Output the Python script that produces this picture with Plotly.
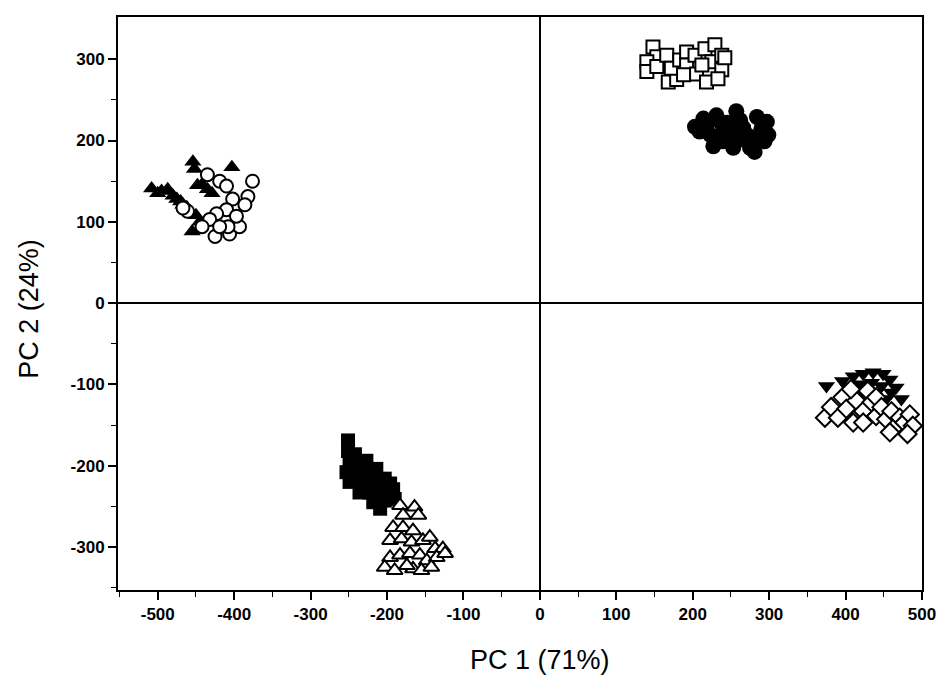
import plotly.graph_objects as go

# ---------------- data ----------------
tri_fill_x = [-454, -403, -508, -487, -442, -429, -475, -467, -458, -455,
              -500, -480, -470, -462, -450, -445, -448, -435, -452, -495]
tri_fill_y = [174, 167, 141, 140, 146, 135, 128, 121, 113, 88,
              135, 132, 125, 118, 108, 100, 145, 140, 165, 138]

circ_open_x = [-435, -419, -410, -376, -382, -386, -402, -410, -423, -432,
               -442, -425, -406, -393, -408, -419, -461, -467, -397]
circ_open_y = [158, 150, 144, 150, 131, 121, 128, 115, 110, 103,
               94, 82, 85, 94, 94, 94, 113, 117, 107]

sq_open_x = [148, 153, 140, 140, 153, 166, 168, 179, 172, 183, 192, 192,
             203, 205, 216, 218, 225, 229, 238, 238, 233, 242, 212, 188]
sq_open_y = [315, 303, 297, 285, 291, 305, 272, 275, 289, 299, 309, 293,
             305, 282, 313, 272, 297, 318, 305, 287, 276, 302, 293, 281]

circ_fill_x = [203, 214, 223, 227, 236, 240, 249, 253, 262, 271, 275, 284,
               290, 294, 297, 281, 231, 257, 209, 299, 218, 245, 266, 236, 258, 283]
circ_fill_y = [217, 227, 207, 193, 223, 199, 211, 191, 225, 207, 191, 229,
               215, 199, 223, 186, 231, 236, 211, 207, 218, 222, 216, 207, 200, 204]

sq_fill_x = [-251, -251, -242, -249, -236, -227, -253, -240, -227, -214, -249, -233,
             -218, -203, -236, -223, -207, -192, -218, -203, -190, -209, -244, -196]
sq_fill_y = [-169, -182, -186, -196, -196, -194, -208, -208, -208, -204, -220, -220,
             -218, -216, -233, -233, -231, -229, -245, -243, -241, -253, -204, -222]

tri_open_x = [-183, -164, -159, -179, -192, -179, -166, -196, -181, -168, -153, -144,
              -137, -127, -196, -183, -170, -157, -148, -135, -203, -190, -166, -155,
              -142, -174, -124]
tri_open_y = [-249, -251, -261, -261, -276, -276, -280, -292, -290, -294, -292, -288,
              -302, -302, -313, -310, -308, -310, -317, -313, -325, -329, -327, -329,
              -325, -323, -308]

tri_down_x = [375, 396, 410, 423, 436, 449, 458, 466, 403, 418, 434, 447,
              440, 414, 427, 460, 473, 453]
tri_down_y = [-102, -96, -90, -87, -85, -87, -94, -104, -104, -100, -98, -102,
              -110, -110, -114, -110, -118, -118]

dia_open_x = [373, 381, 390, 396, 401, 410, 414, 423, 429, 434, 440, 440,
              447, 453, 460, 464, 471, 477, 484, 488, 458, 481, 423, 407]
dia_open_y = [-141, -128, -141, -116, -130, -147, -120, -133, -108, -122, -139, -116,
              -128, -143, -133, -153, -141, -147, -137, -151, -159, -161, -147, -106]

x_ticks = [-500, -400, -300, -200, -100, 0, 100, 200, 300, 400, 500]
x_tick_labels = ["-500", "-400", "-300", "-200", "-100", "0", "100", "200", "300", "400", "500"]
y_ticks = [-300, -200, -100, 0, 100, 200, 300]
y_tick_labels = ["-300", "-200", "-100", "0", "100", "200", "300"]
x_minor = [-550, -450, -350, -250, -150, -50, 50, 150, 250, 350, 450]
y_minor = [-350, -250, -150, -50, 50, 150, 250]

x_title = "PC 1 (71%)"
y_title = "PC 2 (24%)"

# ---------------- figure ----------------
fig = go.Figure()

def add(x, y, symbol, filled, size):
    fig.add_trace(go.Scatter(
        x=x, y=y, mode="markers",
        marker=dict(symbol=symbol, size=size,
                    color="black" if filled else "white",
                    line=dict(color="black", width=0 if filled else 2)),
        showlegend=False, hoverinfo="skip"))

add(tri_fill_x, tri_fill_y, "triangle-up", True, 15)
add(circ_open_x, circ_open_y, "circle", False, 13)
add(sq_open_x, sq_open_y, "square", False, 13)
add(circ_fill_x, circ_fill_y, "circle", True, 16)
add(sq_fill_x, sq_fill_y, "square", True, 14)
add(tri_open_x, tri_open_y, "triangle-up", False, 14)
add(tri_down_x, tri_down_y, "triangle-down", True, 15)
add(dia_open_x, dia_open_y, "diamond", False, 14)

font = "Liberation Sans, Arial, Helvetica, sans-serif"
tick_font = dict(size=17, family=font, color="black", weight="bold")
title_font = dict(size=27, family=font, color="black")

fig.update_layout(
    width=943, height=680,
    margin=dict(l=118, r=21, t=17, b=90),
    paper_bgcolor="white", plot_bgcolor="white",
    font=dict(family=font, color="black"),
    annotations=[
        dict(text=x_title, xref="paper", yref="paper", x=0.525, y=-0.122,
             xanchor="center", yanchor="middle", showarrow=False, font=title_font),
        dict(text=y_title, xref="paper", yref="paper", x=-0.11, y=0.49,
             xanchor="center", yanchor="middle", showarrow=False, textangle=-90,
             font=title_font),
    ],
)
fig.update_xaxes(
    range=[-552, 500], automargin=False,
    tickmode="array", tickvals=x_ticks, ticktext=x_tick_labels,
    tickfont=tick_font,
    ticks="outside", ticklen=8, tickwidth=1.5, tickcolor="black",
    minor=dict(tickmode="array", tickvals=x_minor, ticks="outside",
               ticklen=5, tickwidth=1.2, tickcolor="black", showgrid=False),
    showline=True, linecolor="black", linewidth=2, mirror=True,
    showgrid=False, zeroline=True, zerolinecolor="black", zerolinewidth=2,
)
fig.update_yaxes(
    range=[-353, 352], automargin=False,
    tickmode="array", tickvals=y_ticks, ticktext=y_tick_labels,
    tickfont=tick_font,
    ticks="outside", ticklen=8, tickwidth=1.5, tickcolor="black",
    minor=dict(tickmode="array", tickvals=y_minor, ticks="outside",
               ticklen=5, tickwidth=1.2, tickcolor="black", showgrid=False),
    showline=True, linecolor="black", linewidth=2, mirror=True,
    showgrid=False, zeroline=True, zerolinecolor="black", zerolinewidth=2,
)

fig.write_html("out.html")
